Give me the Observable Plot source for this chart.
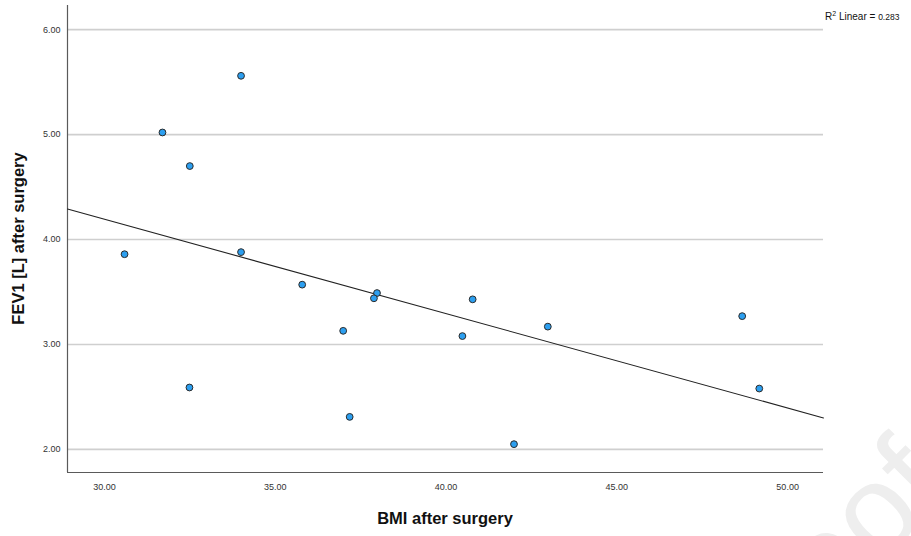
<!DOCTYPE html>
<html>
<head>
<meta charset="utf-8">
<script src="https://cdn.jsdelivr.net/npm/d3@7"></script>
<script src="https://cdn.jsdelivr.net/npm/@observablehq/plot@0.6"></script>
<style>
  html, body { margin: 0; padding: 0; background: #fff; }
  #chart { width: 911px; height: 536px; overflow: hidden; }
</style>
</head>
<body>
<div id="chart"></div>
<script>
// ---- data ----
const bmiAfter = [31.70, 34.00, 32.50, 30.59, 34.00, 35.79, 37.98, 37.89, 40.78, 36.99, 40.48, 42.98, 37.18, 41.99, 48.67, 49.17, 32.49];
const fev1After = [5.02, 5.56, 4.70, 3.86, 3.88, 3.57, 3.49, 3.44, 3.43, 3.13, 3.08, 3.17, 2.31, 2.05, 3.27, 2.58, 2.59];
const xTicks = [30, 35, 40, 45, 50];
const yTicks = [2, 3, 4, 5, 6];
const xDomain = [28.92, 51.05];
const yDomain = [1.78, 6.23];
const xTitle = "BMI after surgery";
const yTitle = "FEV1 [L] after surgery";
const r2Label = "0.283";

const points = bmiAfter.map((x, i) => ({x, y: fev1After[i]}));

// least-squares fit from the data
const mx = d3.mean(bmiAfter), my = d3.mean(fev1After);
const sxy = d3.sum(points, d => (d.x - mx) * (d.y - my));
const sxx = d3.sum(points, d => (d.x - mx) ** 2);
const slope = sxy / sxx, intercept = my - slope * mx;
const fitLine = xDomain.map(x => ({x, y: intercept + slope * x}));

const W = 911, H = 536;
const mL = 67, mR = 88, mT = 5, mB = 64;

const plot = Plot.plot({
  width: W,
  height: H,
  marginLeft: mL,
  marginRight: mR,
  marginTop: mT,
  marginBottom: mB,
  style: {fontFamily: "'Liberation Sans', Arial, sans-serif", background: "#fff", overflow: "hidden"},
  x: {domain: xDomain, label: null},
  y: {domain: yDomain, label: null},
  marks: [
    Plot.gridY(yTicks, {stroke: "#cfcfcf", strokeWidth: 1.6, strokeOpacity: 1}),
    Plot.axisY(yTicks, {tickSize: 0, tickPadding: 7, tickFormat: d3.format(".2f"), fontSize: 9, fill: "#333", label: null}),
    Plot.axisX(xTicks, {tickSize: 0, tickPadding: 11, tickFormat: d3.format(".2f"), fontSize: 9, fill: "#333", label: null}),
    Plot.ruleX([xDomain[0]], {stroke: "#5a5a5a", strokeWidth: 1.2}),
    Plot.ruleY([yDomain[0]], {stroke: "#5a5a5a", strokeWidth: 1.2}),
    Plot.line(fitLine, {x: "x", y: "y", stroke: "#222", strokeWidth: 1.1}),
    Plot.dot(points, {x: "x", y: "y", r: 3.4, fill: "#2c9ff0", stroke: "#2b2b2b", strokeWidth: 1})
  ]
});

const svg = d3.select(plot);

// faint watermark (bottom right, partly beyond the page edge as in the reference)
svg.insert("text", ":first-child")
  .attr("transform", "translate(952,492) rotate(-45)")
  .attr("text-anchor", "end")
  .attr("font-family", "'Liberation Sans', Arial, sans-serif")
  .attr("font-size", 125)
  .attr("fill", "#eeeeee")
  .text("Proof");

// axis titles
svg.append("text")
  .attr("x", (mL + (W - mR)) / 2)
  .attr("y", 524)
  .attr("text-anchor", "middle")
  .attr("font-family", "'Liberation Sans', Arial, sans-serif")
  .attr("font-weight", "bold")
  .attr("font-size", 16.5)
  .attr("fill", "#111")
  .text(xTitle);

svg.append("text")
  .attr("transform", `translate(24,${(mT + (H - mB)) / 2}) rotate(-90)`)
  .attr("text-anchor", "middle")
  .attr("font-family", "'Liberation Sans', Arial, sans-serif")
  .attr("font-weight", "bold")
  .attr("font-size", 16.5)
  .attr("fill", "#111")
  .text(yTitle);

// R² annotation
const r2 = svg.append("text")
  .attr("x", W - mR + 2)
  .attr("y", 20)
  .attr("text-anchor", "start")
  .attr("font-family", "'Liberation Sans', Arial, sans-serif")
  .attr("font-size", 10)
  .attr("fill", "#111");
r2.append("tspan").text("R");
r2.append("tspan").attr("dy", -4).attr("font-size", 7).text("2");
r2.append("tspan").attr("dy", 4).text(" Linear = ");
r2.append("tspan").attr("font-size", 8.5).text(r2Label);

document.getElementById("chart").appendChild(plot);
</script>
</body>
</html>
